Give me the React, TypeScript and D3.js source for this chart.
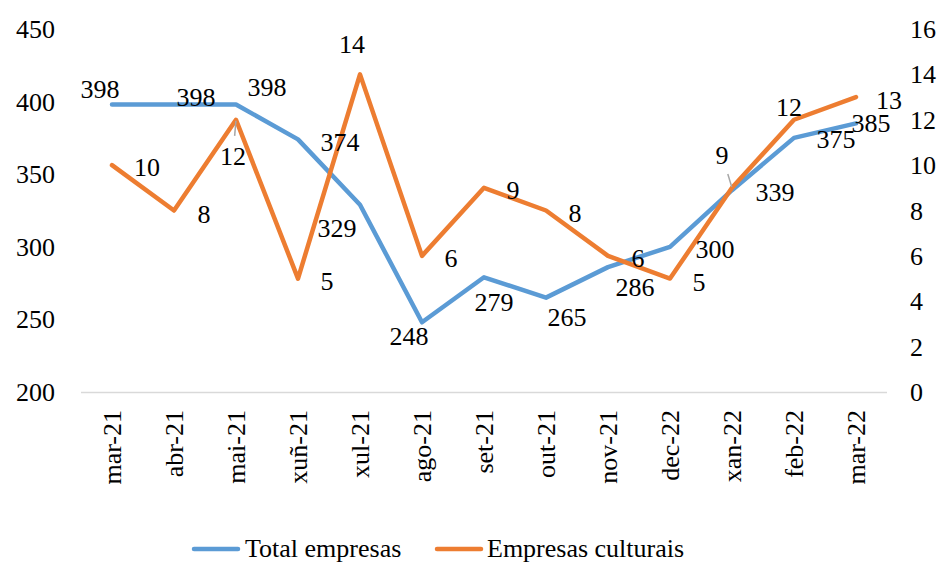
import React from "react";
import * as d3 from "d3";

const months = ["mar-21","abr-21","mai-21","xuñ-21","xul-21","ago-21","set-21","out-21","nov-21","dec-22","xan-22","feb-22","mar-22"];
const totalEmpresas = [398,398,398,374,329,248,279,265,286,300,339,375,385];
const empresasCulturais = [10,8,12,5,14,6,9,8,6,5,9,12,13];
const leftTicks = [200,250,300,350,400,450];
const rightTicks = [0,2,4,6,8,10,12,14,16];
const seriesNames = ["Total empresas","Empresas culturais"];

// label placement offsets (styling)
const blueOff: [number, number][] = [[-12,-16],[22,-8],[31,-18],[42,3],[-23,23],[-13,14],[10,25],[21,19],[27,20],[45,2],[43,2],[42,1],[15,0]];
const orangeOff: [number, number][] = [[35,1.5],[30,3],[-3,36],[29,2],[-8,-30],[29,2.5],[29,2],[29,2],[30,2.5],[29,3],[-10,-33],[-5,-13],[33,3]];
const leaders = [false,false,true,false,false,false,false,false,false,false,true,false,false];

const W = 942, H = 562;
const FONT = "Liberation Serif, DejaVu Serif, serif";
const BLUE = "#5B9BD5";
const ORANGE = "#ED7D31";

export default function App() {
  const x = d3.scaleBand<string>().domain(months).range([81, 887]);
  const cx = (m: string) => (x(m) as number) + x.bandwidth() / 2;
  const yL = d3.scaleLinear().domain([200, 450]).range([392, 29]);
  const yR = d3.scaleLinear().domain([0, 16]).range([392, 29]);

  const lineL = d3.line<number>().x((_, i) => cx(months[i])).y((d) => yL(d));
  const lineR = d3.line<number>().x((_, i) => cx(months[i])).y((d) => yR(d));

  const fs = 26;
  const ts = { fontFamily: FONT, fontSize: fs };
  return (
    <svg width={W} height={H} style={{ position: "absolute", left: 0, top: 0, background: "#fff", fontFamily: FONT }}>
      <line x1={81} x2={887} y1={392.5} y2={392.5} stroke="#D9D9D9" strokeWidth={1.5} />
      {leftTicks.map((t) => (
        <text key={"l" + t} x={55} y={yL(t) + 9} textAnchor="end" style={ts} fill="#000">{t}</text>
      ))}
      {rightTicks.map((t) => (
        <text key={"r" + t} x={910} y={yR(t) + 9} textAnchor="start" style={ts} fill="#000">{t}</text>
      ))}
      {months.map((m) => (
        <text key={m} transform={`translate(${cx(m)},410) rotate(-90)`} textAnchor="end" dy="0.33em" style={ts} fill="#000">{m}</text>
      ))}
      <path d={lineL(totalEmpresas) || ""} fill="none" stroke={BLUE} strokeWidth={4.5} strokeLinejoin="round" strokeLinecap="round" />
      <path d={lineR(empresasCulturais) || ""} fill="none" stroke={ORANGE} strokeWidth={4.5} strokeLinejoin="round" strokeLinecap="round" />
      {empresasCulturais.map((v, i) => {
        if (!leaders[i]) return null;
        const px = cx(months[i]), py = yR(v);
        const lx = px + orangeOff[i][0], ly = py + orangeOff[i][1];
        const dx = lx - px, dy = ly - py;
        const len = Math.hypot(dx, dy);
        const sx = px + (dx / len) * 1, sy = py + (dy / len) * 1;
        const ex = px + (dx / len) * (len - 20), ey = py + (dy / len) * (len - 20);
        return <line key={"ld" + i} x1={sx} y1={sy} x2={ex} y2={ey} stroke="#A6A6A6" strokeWidth={1.5} />;
      })}
      {totalEmpresas.map((v, i) => (
        <text key={"bl" + i} x={cx(months[i]) + blueOff[i][0]} y={yL(v) + blueOff[i][1] + 9} textAnchor="middle" style={ts} fill="#000">{v}</text>
      ))}
      {empresasCulturais.map((v, i) => (
        <text key={"ol" + i} x={cx(months[i]) + orangeOff[i][0]} y={yR(v) + orangeOff[i][1] + 9} textAnchor="middle" style={ts} fill="#000">{v}</text>
      ))}
      <line x1={194} x2={238} y1={549} y2={549} stroke={BLUE} strokeWidth={4.5} strokeLinecap="round" />
      <text x={245} y={557} style={ts} fill="#000">{seriesNames[0]}</text>
      <line x1={437} x2={481} y1={549} y2={549} stroke={ORANGE} strokeWidth={4.5} strokeLinecap="round" />
      <text x={487} y={557} style={ts} fill="#000">{seriesNames[1]}</text>
    </svg>
  );
}
